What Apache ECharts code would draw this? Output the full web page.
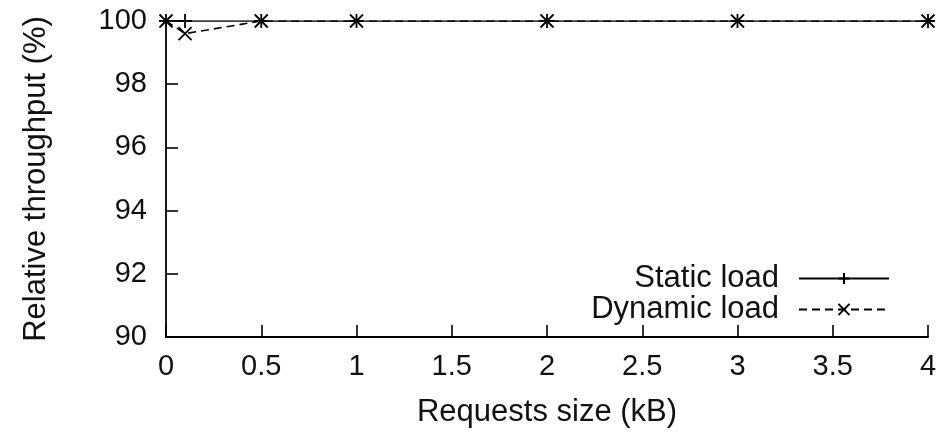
<!DOCTYPE html>
<html><head><meta charset="utf-8">
<script src="https://cdn.jsdelivr.net/npm/echarts@6/dist/echarts.min.js"></script>
<style>html,body{margin:0;padding:0;background:#fff}#c{width:948px;height:435px}</style>
</head><body><div id="c"></div>
<script>
const xTicks = [0, 0.5, 1, 1.5, 2, 2.5, 3, 3.5, 4];
const yTicks = [90, 92, 94, 96, 98, 100];
const requestSizes = [0, 0.1, 0.5, 1, 2, 3, 4];
const staticLoad = [100, 100, 100, 100, 100, 100, 100];
const dynamicLoad = [100, 99.6, 100, 100, 100, 100, 100];

const plus = 'path://M0,-1L0,1M-1,0L1,0';
const cross = 'path://M-1,-1L1,1M-1,1L1,-1';
const font = 'Liberation Sans, Arial, sans-serif';
const chart = echarts.init(document.getElementById('c'));
chart.setOption({
  animation: false,
  textStyle: {fontFamily: font, color: '#111'},
  grid: {left: 166, right: 20, top: 21, bottom: 98, containLabel: false},
  xAxis: {
    type: 'value', min: 0, max: 4, interval: 0.5,
    name: 'Requests size (kB)', nameLocation: 'middle', nameGap: 60,
    nameTextStyle: {fontSize: 31, color: '#111', fontFamily: font},
    axisLine: {show: true, lineStyle: {color: '#000', width: 1.8}},
    axisTick: {show: true, inside: true, length: 12, lineStyle: {color: '#000', width: 1.6}},
    axisLabel: {fontSize: 29, color: '#111', margin: 15, fontFamily: font,
      formatter: v => xTicks.includes(v) ? String(v) : ''},
    splitLine: {show: false}
  },
  yAxis: {
    type: 'value', min: 90, max: 100, interval: 2,
    name: 'Relative throughput (%)', nameLocation: 'middle', nameGap: 114, nameRotate: 90,
    nameTextStyle: {fontSize: 31, color: '#111', fontFamily: font},
    axisLine: {show: true, lineStyle: {color: '#000', width: 1.8}},
    axisTick: {show: true, inside: true, length: 12, lineStyle: {color: '#000', width: 1.6}},
    axisLabel: {fontSize: 29, color: '#111', margin: 19, fontFamily: font,
      formatter: v => yTicks.includes(v) ? String(v) : ''},
    splitLine: {show: false}
  },
  legend: {
    orient: 'vertical', right: 53, top: 258, align: 'right',
    itemWidth: 90, itemHeight: 14, itemGap: 0,
    textStyle: {fontSize: 31, color: '#111', fontFamily: font, padding: [0, 15, 0, 0]},
    data: ['Static load', 'Dynamic load']
  },
  series: [
    {
      name: 'Static load', type: 'line',
      data: requestSizes.map((x, i) => [x, staticLoad[i]]),
      symbol: plus, symbolSize: 14, showSymbol: true,
      lineStyle: {color: '#000', width: 1.6, type: 'solid'},
      itemStyle: {color: 'none', borderColor: '#000', borderWidth: 1.8}
    },
    {
      name: 'Dynamic load', type: 'line',
      data: requestSizes.map((x, i) => [x, dynamicLoad[i]]),
      symbol: cross, symbolSize: 13, showSymbol: true,
      lineStyle: {color: '#000', width: 1.6, type: [8, 5]},
      itemStyle: {color: 'none', borderColor: '#000', borderWidth: 1.8}
    }
  ]
});
</script></body></html>
